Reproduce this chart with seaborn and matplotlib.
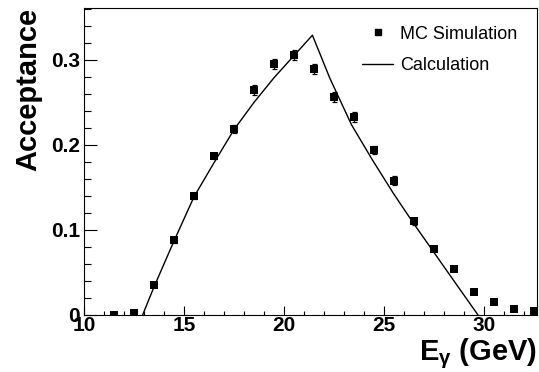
import matplotlib
matplotlib.use("Agg")
import matplotlib.pyplot as plt
from matplotlib.lines import Line2D
from matplotlib.ticker import MultipleLocator, FuncFormatter
import seaborn as sns
import numpy as np

# MC simulation points
mc_x = [11.5, 12.5, 13.5, 14.5, 15.5, 16.5, 17.5, 18.5, 19.5, 20.5, 21.5,
        22.5, 23.5, 24.5, 25.5, 26.5, 27.5, 28.5, 29.5, 30.5, 31.5, 32.5]
mc_y = [0.000, 0.002, 0.035, 0.088, 0.140, 0.187, 0.219, 0.265, 0.295, 0.306, 0.289,
        0.256, 0.233, 0.194, 0.158, 0.110, 0.078, 0.054, 0.027, 0.015, 0.007, 0.005]
mc_err = [0.001, 0.001, 0.002, 0.003, 0.004, 0.004, 0.005, 0.006, 0.006, 0.006, 0.006,
          0.006, 0.006, 0.005, 0.005, 0.004, 0.003, 0.002, 0.002, 0.001, 0.001, 0.001]

# Calculation curve
calc_x = [12.93, 13.5, 14.5, 15.5, 16.5, 17.5, 18.5, 19.5, 20.5, 21.42,
          22.3, 23.38, 24.43, 25.47, 26.47, 27.47, 28.47, 29.7]
calc_y = [0.0, 0.033, 0.087, 0.139, 0.179, 0.218, 0.250, 0.279, 0.305, 0.329,
          0.278, 0.2235, 0.182, 0.143, 0.108, 0.0745, 0.041, 0.0]

sns.set_theme(style="ticks")
plt.rcParams['font.family'] = ['Liberation Sans', 'DejaVu Sans']
plt.rcParams['text.color'] = 'black'
plt.rcParams['axes.labelcolor'] = 'black'
plt.rcParams['mathtext.fontset'] = 'custom'
plt.rcParams['mathtext.rm'] = 'Liberation Sans:bold'
plt.rcParams['mathtext.it'] = 'Liberation Sans:bold'
plt.rcParams['mathtext.bf'] = 'Liberation Sans:bold'

fig = plt.figure(figsize=(5.39, 3.72), dpi=100)
ax = fig.add_axes([84/539, (372-315)/372, (537-84)/539, (315-8)/372])

ax.errorbar(mc_x, mc_y, yerr=mc_err, fmt='none', ecolor='black',
            elinewidth=0.9, capsize=1.8, capthick=0.9, zorder=2)
sns.scatterplot(x=mc_x, y=mc_y, marker='s', s=32, color='black',
                edgecolor='black', linewidth=0, ax=ax, zorder=3)
sns.lineplot(x=calc_x, y=calc_y, sort=False, estimator=None, color='black',
             linewidth=1.0, ax=ax, zorder=2)

ax.set_xlim(10, 32.65)
ax.set_ylim(0, 0.361)

for s in ax.spines.values():
    s.set_color('black')
    s.set_linewidth(0.8)

ax.xaxis.set_major_locator(MultipleLocator(5))
ax.xaxis.set_minor_locator(MultipleLocator(1))
ax.yaxis.set_major_locator(MultipleLocator(0.1))
ax.yaxis.set_minor_locator(MultipleLocator(0.02))
ax.yaxis.set_major_formatter(FuncFormatter(lambda v, p: f"{v:g}"))

ax.tick_params(axis='y', which='major', direction='in', length=9.4, width=0.8,
               pad=3, labelsize=15, left=True, right=False, colors='black')
ax.tick_params(axis='y', which='minor', direction='in', length=4.8, width=0.8,
               left=True, right=False, colors='black')
ax.tick_params(axis='x', which='major', direction='in', length=6.5, width=0.8,
               pad=1, labelsize=15, bottom=True, top=False, colors='black')
ax.tick_params(axis='x', which='minor', direction='in', length=3.2, width=0.8,
               bottom=True, top=False, colors='black')
for lab in ax.get_xticklabels() + ax.get_yticklabels():
    lab.set_fontweight('bold')

ax.set_xlabel(r"E$_{\mathrm{γ}}$ (GeV)", fontsize=21, fontweight='bold', loc='right',
              labelpad=1, color='black')
ax.set_ylabel("Acceptance", fontsize=21, fontweight='bold', loc='top', labelpad=6,
              color='black')

handles = [Line2D([], [], marker='s', linestyle='none', color='black', markersize=5),
           Line2D([], [], color='black', linewidth=1.0)]
ax.legend(handles, ["MC Simulation", "Calculation"], loc='upper left',
          bbox_to_anchor=(0.6137, 0.942), frameon=False, fontsize=13,
          handlelength=1.72, handletextpad=0.39, labelspacing=0.78,
          borderpad=0, borderaxespad=0)

fig.savefig("out.png", dpi=100)
